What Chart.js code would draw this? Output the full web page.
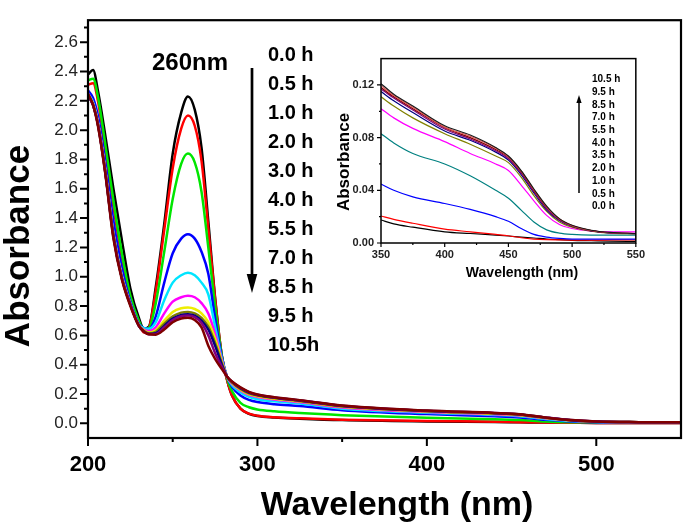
<!DOCTYPE html>
<html>
<head>
<script src="https://cdn.jsdelivr.net/npm/chart.js"></script>
<title>Absorbance</title>
<style>
  body { margin: 0; background: white; }
  #wrap { position: relative; width: 685px; height: 530px; }
  #main { position: absolute; left: 0; top: 0; }
  #inset { position: absolute; left: 335px; top: 45px; }
</style>
</head>
<body>
<div id="wrap">
  <canvas id="main" width="685" height="530"></canvas>
  <canvas id="inset" width="315" height="245"></canvas>
</div>
<script>
// main spectra (nm / absorbance)
const wavelength = [200, 203, 206, 210, 215, 220, 225, 230, 233, 236,
  240, 245, 250, 255, 259, 263, 267, 271, 275, 279,
  282, 285, 290, 295, 300, 310, 325, 350, 400, 440,
  455, 470, 485, 500, 525, 550];

const h0_0 = [2.38, 2.41, 2.26, 1.98, 1.60, 1.25, 0.92, 0.72, 0.645, 0.66,
  0.93, 1.36, 1.84, 2.12, 2.23, 2.14, 1.88, 1.38, 0.86, 0.46,
  0.30, 0.19, 0.10, 0.065, 0.05, 0.04, 0.032, 0.022, 0.013, 0.009,
  0.007, 0.005, 0.004, 0.003, 0.002, 0.002];
const h0_5 = [2.31, 2.32, 2.19, 1.88, 1.48, 1.13, 0.86, 0.69, 0.62, 0.65,
  0.90, 1.32, 1.74, 2.01, 2.10, 2.03, 1.79, 1.33, 0.85, 0.46,
  0.30, 0.19, 0.10, 0.066, 0.052, 0.042, 0.034, 0.025, 0.016, 0.011,
  0.008, 0.005, 0.004, 0.003, 0.003, 0.003];
const h1_0 = [2.34, 2.35, 2.22, 1.92, 1.52, 1.16, 0.87, 0.70, 0.64, 0.65,
  0.82, 1.17, 1.53, 1.77, 1.84, 1.78, 1.58, 1.20, 0.80, 0.46,
  0.31, 0.22, 0.14, 0.11, 0.095, 0.082, 0.07, 0.056, 0.038, 0.028,
  0.022, 0.012, 0.007, 0.005, 0.004, 0.004];
const h2_0 = [2.27, 2.22, 2.09, 1.80, 1.38, 1.06, 0.83, 0.68, 0.65, 0.645,
  0.73, 0.96, 1.16, 1.26, 1.29, 1.26, 1.17, 1.02, 0.72, 0.45,
  0.32, 0.25, 0.19, 0.16, 0.145, 0.13, 0.118, 0.09, 0.063, 0.048,
  0.04, 0.024, 0.012, 0.007, 0.005, 0.005];
const h3_0 = [2.25, 2.19, 2.05, 1.75, 1.30, 1.01, 0.82, 0.675, 0.65, 0.645,
  0.69, 0.84, 0.96, 1.01, 1.027, 1.01, 0.96, 0.88, 0.66, 0.44,
  0.32, 0.26, 0.21, 0.18, 0.165, 0.15, 0.135, 0.10, 0.072, 0.057,
  0.048, 0.03, 0.016, 0.009, 0.006, 0.006];
const h4_0 = [2.25, 2.18, 2.04, 1.74, 1.29, 1.00, 0.815, 0.67, 0.64, 0.63,
  0.655, 0.75, 0.83, 0.86, 0.87, 0.86, 0.82, 0.75, 0.61, 0.43,
  0.32, 0.27, 0.225, 0.195, 0.18, 0.163, 0.145, 0.108, 0.077, 0.062,
  0.053, 0.034, 0.019, 0.011, 0.008, 0.008];
const h5_5 = [2.24, 2.18, 2.04, 1.74, 1.29, 1.00, 0.81, 0.67, 0.635, 0.62,
  0.635, 0.70, 0.76, 0.785, 0.79, 0.78, 0.75, 0.69, 0.58, 0.42,
  0.32, 0.275, 0.23, 0.20, 0.185, 0.168, 0.15, 0.113, 0.081, 0.065,
  0.056, 0.036, 0.020, 0.012, 0.008, 0.007];
const h7_0 = [2.24, 2.17, 2.03, 1.73, 1.28, 0.99, 0.81, 0.67, 0.63, 0.615,
  0.625, 0.68, 0.73, 0.755, 0.76, 0.75, 0.72, 0.66, 0.55, 0.41,
  0.32, 0.28, 0.235, 0.205, 0.19, 0.172, 0.153, 0.116, 0.084, 0.068,
  0.059, 0.038, 0.021, 0.012, 0.008, 0.007];
const h8_5 = [2.24, 2.17, 2.03, 1.73, 1.28, 0.99, 0.81, 0.665, 0.627, 0.61,
  0.615, 0.665, 0.715, 0.74, 0.745, 0.735, 0.70, 0.64, 0.53, 0.40,
  0.32, 0.282, 0.24, 0.21, 0.193, 0.175, 0.156, 0.118, 0.085, 0.069,
  0.060, 0.039, 0.021, 0.012, 0.008, 0.007];
const h9_5 = [2.24, 2.17, 2.03, 1.73, 1.27, 0.99, 0.81, 0.665, 0.626, 0.608,
  0.61, 0.655, 0.705, 0.73, 0.735, 0.725, 0.685, 0.60, 0.48, 0.385,
  0.32, 0.284, 0.243, 0.213, 0.195, 0.177, 0.157, 0.12, 0.086, 0.07,
  0.061, 0.04, 0.022, 0.012, 0.008, 0.007];
const h10_5 = [2.25, 2.17, 2.02, 1.72, 1.26, 0.98, 0.80, 0.665, 0.625, 0.607,
  0.605, 0.64, 0.69, 0.715, 0.72, 0.705, 0.655, 0.53, 0.44, 0.37,
  0.32, 0.285, 0.245, 0.215, 0.197, 0.178, 0.158, 0.122, 0.087, 0.071,
  0.062, 0.04, 0.022, 0.012, 0.008, 0.007];

const mainLabels = ['0.0 h', '0.5 h', '1.0 h', '2.0 h', '3.0 h', '4.0 h', '5.5 h', '7.0 h', '8.5 h', '9.5 h', '10.5h'];
const mainColors = ['#000000', '#ff0000', '#00e600', '#0000ff', '#00e5ff', '#ff00ff', '#eeee00', '#808000', '#000080', '#800080', '#800000'];
const mainSeries = [h0_0, h0_5, h1_0, h2_0, h3_0, h4_0, h5_5, h7_0, h8_5, h9_5, h10_5];

const xMajor = [200, 300, 400, 500];
const xMinor = [250, 350, 450];
const yMajor = [0, 0.2, 0.4, 0.6, 0.8, 1.0, 1.2, 1.4, 1.6, 1.8, 2.0, 2.2, 2.4, 2.6];
const yMinor = [0.1, 0.3, 0.5, 0.7, 0.9, 1.1, 1.3, 1.5, 1.7, 1.9, 2.1, 2.3, 2.5, 2.7];

// inset spectra, 350-550 nm
const insetWl = [350, 360, 375, 400, 420, 440, 450, 460, 470, 480, 490, 500, 515, 530, 550];
const i0_0 = [0.0175, 0.0145, 0.012, 0.0085, 0.0072, 0.006, 0.0053, 0.0045, 0.0038, 0.003, 0.0025, 0.002, 0.0017, 0.0014, 0.0012];
const i0_5 = [0.0205, 0.018, 0.015, 0.0105, 0.0085, 0.0065, 0.0055, 0.004, 0.003, 0.0025, 0.0023, 0.0022, 0.0022, 0.0023, 0.0024];
const i1_0 = [0.0447, 0.040, 0.035, 0.030, 0.0255, 0.020, 0.0165, 0.011, 0.0065, 0.0045, 0.0035, 0.003, 0.003, 0.003, 0.003];
const i2_0 = [0.083, 0.076, 0.068, 0.060, 0.051, 0.040, 0.034, 0.025, 0.016, 0.010, 0.0075, 0.0065, 0.006, 0.006, 0.006];
const i3_5 = [0.102, 0.095, 0.087, 0.077, 0.068, 0.060, 0.055, 0.044, 0.032, 0.021, 0.014, 0.011, 0.009, 0.0085, 0.0085];
const i4_0 = [0.111, 0.104, 0.095, 0.083, 0.075, 0.066, 0.061, 0.050, 0.036, 0.024, 0.016, 0.012, 0.009, 0.0075, 0.007];
const i5_5 = [0.115, 0.108, 0.099, 0.085, 0.078, 0.069, 0.063, 0.052, 0.038, 0.025, 0.017, 0.0125, 0.0092, 0.0076, 0.0071];
const i7_0 = [0.117, 0.110, 0.101, 0.0865, 0.079, 0.070, 0.064, 0.053, 0.039, 0.026, 0.0175, 0.0128, 0.0093, 0.0077, 0.0071];
const i8_5 = [0.118, 0.111, 0.102, 0.0875, 0.080, 0.071, 0.065, 0.054, 0.040, 0.027, 0.018, 0.013, 0.0094, 0.0078, 0.0072];
const i9_5 = [0.1195, 0.112, 0.103, 0.088, 0.081, 0.072, 0.0655, 0.0545, 0.0405, 0.0275, 0.0182, 0.0132, 0.0095, 0.0078, 0.0072];
const i10_5 = [0.121, 0.113, 0.104, 0.089, 0.082, 0.0725, 0.066, 0.055, 0.041, 0.028, 0.0185, 0.0135, 0.0097, 0.008, 0.0072];

const insetLabels = ['0.0 h', '0.5 h', '1.0 h', '2.0 h', '3.5 h', '4.0 h', '5.5 h', '7.0 h', '8.5 h', '9.5 h', '10.5 h'];
const insetColors = ['#000000', '#ff0000', '#0000ff', '#008080', '#ff00ff', '#808000', '#000080', '#800080', '#800000', '#e05555', '#1a1a1a'];
const insetSeries = [i0_0, i0_5, i1_0, i2_0, i3_5, i4_0, i5_5, i7_0, i8_5, i9_5, i10_5];

const insetXMajor = [350, 400, 450, 500, 550];
const insetXMinor = [375, 425, 475, 525];
const insetYMajor = [0, 0.04, 0.08, 0.12];
const insetYMinor = [0.02, 0.06, 0.10];

Chart.defaults.font.family = "'Liberation Sans', Arial, sans-serif";
Chart.defaults.color = '#000';

// box frame + outward ticks (major and minor)
const frameTicks = {
  id: 'frameTicks',
  afterDraw(chart, args, o) {
    const {ctx, chartArea: a, scales: {x, y}} = chart;
    ctx.save();
    ctx.strokeStyle = '#000';
    ctx.lineWidth = o.frame;
    ctx.strokeRect(a.left, a.top, a.right - a.left, a.bottom - a.top);
    ctx.lineWidth = o.tick;
    ctx.beginPath();
    o.xMajor.forEach(v => { const p = x.getPixelForValue(v); ctx.moveTo(p, a.bottom); ctx.lineTo(p, a.bottom + o.major); });
    o.xMinor.forEach(v => { const p = x.getPixelForValue(v); ctx.moveTo(p, a.bottom); ctx.lineTo(p, a.bottom + o.minor); });
    o.yMajor.forEach(v => { const p = y.getPixelForValue(v); ctx.moveTo(a.left, p); ctx.lineTo(a.left - o.major, p); });
    o.yMinor.forEach(v => { const p = y.getPixelForValue(v); ctx.moveTo(a.left, p); ctx.lineTo(a.left - o.minor, p); });
    ctx.stroke();
    ctx.restore();
  }
};

// axis titles, legend text and arrows
const notes = {
  id: 'notes',
  afterDraw(chart, args, o) {
    const ctx = chart.ctx;
    ctx.save();
    ctx.fillStyle = '#000';
    ctx.strokeStyle = '#000';
    ctx.textBaseline = 'middle';
    ctx.textAlign = 'center';
    ctx.font = o.xTitle.font;
    ctx.fillText(o.xTitle.text, o.xTitle.x, o.xTitle.y);
    ctx.save();
    ctx.translate(o.yTitle.x, o.yTitle.y);
    ctx.rotate(-Math.PI / 2);
    ctx.font = o.yTitle.font;
    ctx.fillText(o.yTitle.text, 0, 0);
    ctx.restore();
    if (o.extra) {
      ctx.font = o.extra.font;
      ctx.fillText(o.extra.text, o.extra.x, o.extra.y);
    }
    ctx.textAlign = 'left';
    ctx.font = o.list.font;
    o.list.items.forEach((t, i) => ctx.fillText(t, o.list.x, o.list.y + o.list.step * i));
    const ar = o.arrow;
    ctx.lineWidth = ar.width;
    ctx.beginPath();
    ctx.moveTo(ar.x, ar.from);
    ctx.lineTo(ar.x, ar.headBase);
    ctx.stroke();
    ctx.beginPath();
    ctx.moveTo(ar.x - ar.half, ar.headBase);
    ctx.lineTo(ar.x + ar.half, ar.headBase);
    ctx.lineTo(ar.x, ar.tip);
    ctx.closePath();
    ctx.fill();
    ctx.restore();
  }
};

function lineSets(xs, series, labels, colors, width) {
  return series.map((vals, i) => ({
    label: labels[i],
    data: vals.map((v, k) => ({x: xs[k], y: v})),
    borderColor: colors[i],
    borderWidth: width,
    pointRadius: 0,
    fill: false,
    cubicInterpolationMode: 'monotone',
    order: series.length - i
  }));
}

new Chart(document.getElementById('main'), {
  type: 'line',
  data: { datasets: lineSets(wavelength, mainSeries, mainLabels, mainColors, 2.5) },
  options: {
    responsive: false,
    animation: false,
    layout: { padding: { top: 4, right: 4, left: 0, bottom: 0 } },
    plugins: {
      legend: { display: false },
      tooltip: { enabled: false },
      frameTicks: { frame: 2.2, tick: 2, major: 8, minor: 4, xMajor, xMinor, yMajor, yMinor },
      notes: {
        xTitle: { text: 'Wavelength (nm)', font: "bold 34px 'Liberation Sans'", x: 397, y: 506 },
        yTitle: { text: 'Absorbance', font: "bold 35px 'Liberation Sans'", x: 19, y: 246 },
        extra: { text: '260nm', font: "bold 24px 'Liberation Sans'", x: 190, y: 63 },
        list: { items: mainLabels, font: "bold 20px 'Liberation Sans'", x: 268, y: 55, step: 29 },
        arrow: { x: 252, from: 68, headBase: 274, tip: 293, half: 5.3, width: 2.7 }
      }
    },
    scales: {
      x: {
        type: 'linear', min: 200, max: 550,
        afterBuildTicks: s => { s.ticks = xMajor.map(v => ({value: v})); },
        afterFit: s => { s.height = 92; },
        ticks: { padding: 14, font: { size: 22, weight: 'bold' }, color: '#000', maxRotation: 0 },
        grid: { display: false, drawTicks: false },
        border: { display: false }
      },
      y: {
        type: 'linear', min: -0.1, max: 2.75,
        afterBuildTicks: s => { s.ticks = yMajor.map(v => ({value: v})); },
        afterFit: s => { s.width = 88; },
        ticks: { padding: 10, font: { size: 17 }, color: '#222', callback: v => v.toFixed(1) },
        grid: { display: false, drawTicks: false },
        border: { display: false }
      }
    }
  },
  plugins: [frameTicks, notes]
});

new Chart(document.getElementById('inset'), {
  type: 'line',
  data: { datasets: lineSets(insetWl, insetSeries, insetLabels, insetColors, 1.2) },
  options: {
    responsive: false,
    animation: false,
    layout: { padding: { top: 6, right: 7, left: 0, bottom: 0 } },
    plugins: {
      legend: { display: false },
      tooltip: { enabled: false },
      frameTicks: { frame: 1.5, tick: 1.2, major: 4, minor: 2,
        xMajor: insetXMajor, xMinor: insetXMinor, yMajor: insetYMajor, yMinor: insetYMinor },
      notes: {
        xTitle: { text: 'Wavelength (nm)', font: "bold 14px 'Liberation Sans'", x: 187, y: 228 },
        yTitle: { text: 'Absorbance', font: "bold 17px 'Liberation Sans'", x: 9, y: 117 },
        list: { items: insetLabels.slice().reverse(), font: "bold 10px 'Liberation Sans'", x: 257, y: 34.3, step: 12.74 },
        arrow: { x: 244, from: 148, headBase: 58, tip: 50, half: 2.6, width: 1.5 }
      }
    },
    scales: {
      x: {
        type: 'linear', min: 350, max: 550,
        afterBuildTicks: s => { s.ticks = insetXMajor.map(v => ({value: v})); },
        afterFit: s => { s.height = 47; },
        ticks: { padding: 5, font: { size: 11, weight: 'bold' }, color: '#222', maxRotation: 0 },
        grid: { display: false, drawTicks: false },
        border: { display: false }
      },
      y: {
        type: 'linear', min: 0, max: 0.14,
        afterBuildTicks: s => { s.ticks = insetYMajor.map(v => ({value: v})); },
        afterFit: s => { s.width = 46; },
        ticks: { padding: 7, font: { size: 11, weight: 'bold' }, color: '#222', callback: v => v.toFixed(2) },
        grid: { display: false, drawTicks: false },
        border: { display: false }
      }
    }
  },
  plugins: [frameTicks, notes]
});
</script>
</body>
</html>
